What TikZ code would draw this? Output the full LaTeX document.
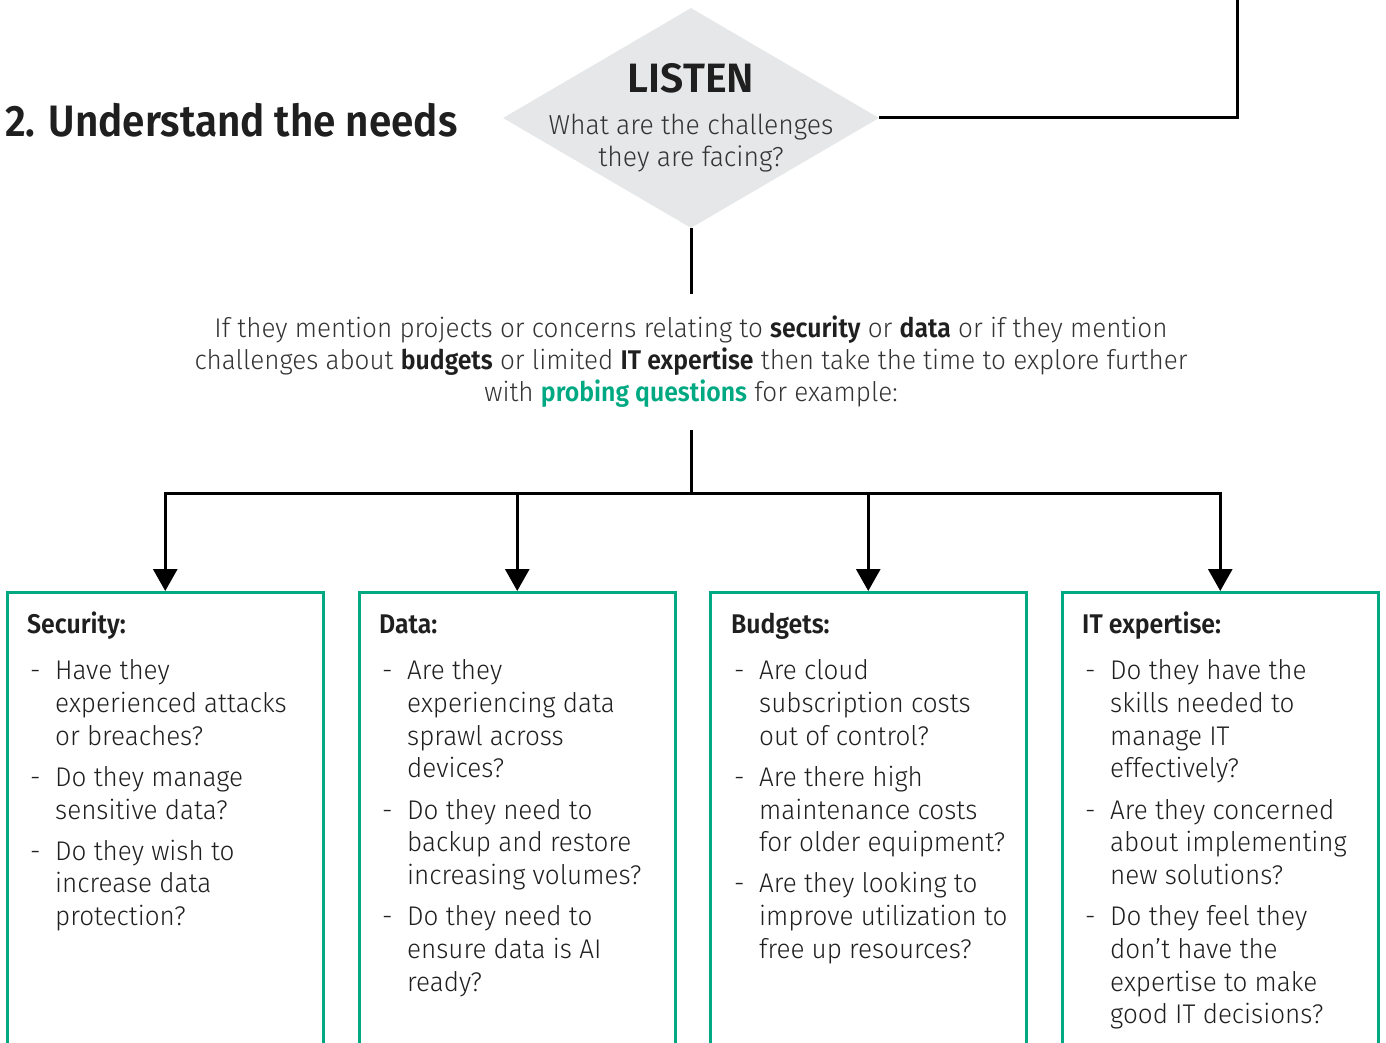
\documentclass[tikz,border=0pt]{standalone}
\usepackage{fontspec}
\setmainfont{Fira Sans}[UprightFont=* Light, BoldFont=* SemiBold, UprightFeatures={FakeStretch=0.965}, BoldFeatures={FakeStretch=0.92}]
\newfontfamily\listenfont{Fira Sans SemiBold}
\usetikzlibrary{arrows.meta,shapes.geometric}
\definecolor{hpegreen}{HTML}{01A982}
\definecolor{dgray}{HTML}{E6E7E8}
\definecolor{ink}{HTML}{1F1F1F}
\definecolor{qgray}{HTML}{333333}
\newcommand{\qd}{\hspace{3pt}-}
\tikzset{
  conn/.style={draw=black, line width=3pt},
  arr/.style={conn, -{Triangle[width=24pt,length=22pt]}},
  qbox/.style={draw=hpegreen, line width=2.5pt, minimum width=316pt, minimum height=480pt, inner sep=0pt, anchor=north west},
  qtext/.style={anchor=base west, inner sep=0pt, text=ink, font=\fontsize{27pt}{32.7pt}\selectfont},
}
\begin{document}
\begin{tikzpicture}[x=1pt,y=-1pt]
\useasboundingbox (0,0) rectangle (1386,1043);
% title
\node[anchor=base west, inner sep=0pt, text=ink, font=\fontsize{44pt}{50pt}\selectfont\bfseries] (title) at (5,137) {2. Understand the needs};
% diamond
\node[diamond, fill=dgray, minimum width=376pt, minimum height=220pt, inner sep=0pt] (listen) at (691,118) {};
\node[anchor=base, inner sep=0pt, text=ink, font=\fontsize{41pt}{46pt}\listenfont] (listenT) at (691,93) {LISTEN};
\node[anchor=base, inner sep=0pt, text=qgray, font=\fontsize{27.5pt}{31.5pt}\selectfont] (listenQ) at (691,135)
  {\begin{tabular}[t]{@{}c@{}}What are the challenges\\they are facing?\end{tabular}};
\coordinate (topR) at (1237,-5);
\draw[conn] (listen.east) -| (topR);
% paragraph
\node[anchor=base, inner sep=0pt, text=qgray, font=\fontsize{27pt}{32.3pt}\selectfont] (para) at (691,337)
  {\begin{tabular}[t]{@{}c@{}}If they mention projects or concerns relating to \textcolor{ink}{\bfseries security} or \textcolor{ink}{\bfseries data} or if they mention\\
  challenges about \textcolor{ink}{\bfseries budgets} or limited \textcolor{ink}{\bfseries IT expertise} then take the time to explore further\\
  with \textcolor{hpegreen}{\bfseries probing questions} for example:\end{tabular}};
\coordinate (paraTop) at (691,294);
\coordinate (paraBot) at (691,430);
\coordinate (split) at (691,493);
\draw[conn] (listen.south) -- (paraTop);
\draw[conn] (paraBot) -- (split);
% boxes
\node[qbox] (secbox) at (6,591) {};
\node[qbox] (databox) at (358,591) {};
\node[qbox] (budbox) at (709,591) {};
\node[qbox] (itbox) at (1061,591) {};
\draw[arr] (split) -| (secbox.north);
\draw[arr] (split) -| (databox.north);
\draw[arr] (split) -| (budbox.north);
\draw[arr] (split) -| (itbox.north);
% box texts
\node[qtext] (sectext) at (27,633) {\begin{tabular}[t]{@{}p{28pt}@{}l@{}}
\multicolumn{2}{@{}l@{}}{\bfseries Security:}\\[14pt]
\qd & Have they\\
 & experienced attacks\\
 & or breaches?\\[8.5pt]
\qd & Do they manage\\
 & sensitive data?\\[8.5pt]
\qd & Do they wish to\\
 & increase data\\
 & protection?
\end{tabular}};
\node[qtext] (datatext) at (379,633) {\begin{tabular}[t]{@{}p{28pt}@{}l@{}}
\multicolumn{2}{@{}l@{}}{\bfseries Data:}\\[14pt]
\qd & Are they\\
 & experiencing data\\
 & sprawl across\\
 & devices?\\[8.5pt]
\qd & Do they need to\\
 & backup and restore\\
 & increasing volumes?\\[8.5pt]
\qd & Do they need to\\
 & ensure data is AI\\
 & ready?
\end{tabular}};
\node[qtext] (budtext) at (731,633) {\begin{tabular}[t]{@{}p{28pt}@{}l@{}}
\multicolumn{2}{@{}l@{}}{\bfseries Budgets:}\\[14pt]
\qd & Are cloud\\
 & subscription costs\\
 & out of control?\\[8.5pt]
\qd & Are there high\\
 & maintenance costs\\
 & for older equipment?\\[8.5pt]
\qd & Are they looking to\\
 & improve utilization to\\
 & free up resources?
\end{tabular}};
\node[qtext] (ittext) at (1082,633) {\begin{tabular}[t]{@{}p{28pt}@{}l@{}}
\multicolumn{2}{@{}l@{}}{\bfseries IT expertise:}\\[14pt]
\qd & Do they have the\\
 & skills needed to\\
 & manage IT\\
 & effectively?\\[8.5pt]
\qd & Are they concerned\\
 & about\ implementing\\
 & new solutions?\\[8.5pt]
\qd & Do they feel they\\
 & don’t have the\\
 & expertise to make\\
 & good IT decisions?
\end{tabular}};
\end{tikzpicture}
\end{document}
